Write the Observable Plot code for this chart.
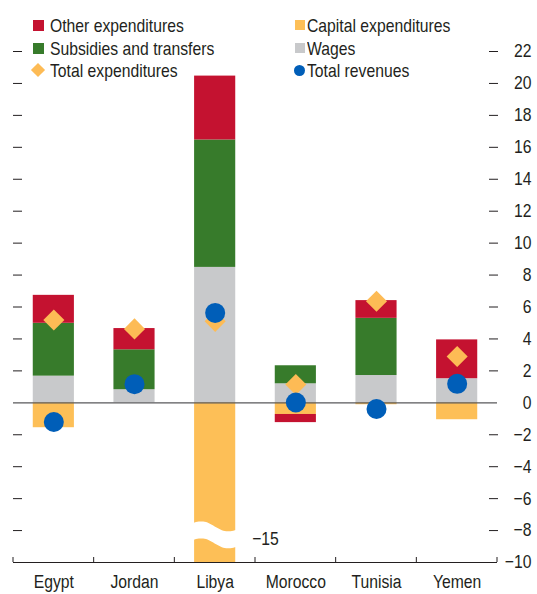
<!DOCTYPE html>
<html><head><meta charset="utf-8">
<script src="https://cdn.jsdelivr.net/npm/d3@7"></script>
<script src="https://cdn.jsdelivr.net/npm/@observablehq/plot@0.6"></script>
<style>
body{margin:0;background:#fff;}
#wrap{position:relative;width:537px;height:594px;font-family:"Liberation Sans",Arial,sans-serif;color:#231f20;}
#wrap svg{position:absolute;left:0;top:0;}
.leg{position:absolute;font-size:18.5px;line-height:22px;height:22px;white-space:nowrap;transform:scaleX(0.85);transform-origin:0 50%;}
.sw{position:absolute;}
</style>
</head><body>
<div id="wrap"></div>
<script>
const countries = ["Egypt","Jordan","Libya","Morocco","Tunisia","Yemen"];
const seriesNames = ["Wages","Subsidies and transfers","Capital expenditures","Other expenditures"];
const wages     = [1.67, 0.82, 8.48, 1.19, 1.71, 1.51];
const subsidies = [3.31, 2.50, 7.98, 1.13, 3.58, 0];
const capital   = [-1.56, 0, -15, -0.73, -0.12, -1.06];
const other     = [1.75, 1.33, 4.0, -0.51, 1.11, 2.43];
const totalExp  = [5.19, 4.63, 5.1, 1.15, 6.36, 2.9];
const totalRev  = [-1.2, 1.17, 5.63, 0.02, -0.39, 1.19];
const yTicks = [-10,-8,-6,-4,-2,0,2,4,6,8,10,12,14,16,18,20,22];
const colors = {"Other expenditures":"#c41230","Capital expenditures":"#fdbf57","Subsidies and transfers":"#377b2b","Wages":"#c8c9cb"};
const expColor = "#fdbb55", revColor = "#005eb8";

const seriesValues = [wages, subsidies, capital, other];
const bars = [];
countries.forEach((c, i) => seriesNames.forEach((s, j) => bars.push({country: c, series: s, value: seriesValues[j][i]})));
const totals = countries.map((c, i) => ({country: c, exp: totalExp[i], rev: totalRev[i]}));
const breakLabel = [{country: "Libya", label: d3.format("")(capital[2])}];

const font = '"Liberation Sans",Arial,sans-serif';
const chart = Plot.plot({
  width: 537, height: 594,
  marginLeft: 13, marginRight: 40, marginTop: 51, marginBottom: 32,
  style: {fontFamily: font, fontSize: "18.5px", color: "#231f20", background: "transparent"},
  x: {domain: countries, paddingInner: 0.49, paddingOuter: 0.245, round: false, label: null},
  y: {domain: [-10, 22], clamp: true, label: null},
  color: {domain: Object.keys(colors), range: Object.values(colors)},
  marks: [
    Plot.barY(bars, {x: "country", y: "value", fill: d => colors[d.series], order: null}),
    Plot.ruleY([0], {stroke: "#58595b", strokeWidth: 1.2}),
    Plot.ruleY([-10], {stroke: "#231f20", strokeWidth: 1}),
    Plot.axisY({anchor: "left", ticks: yTicks.filter(v => v > -10 && v !== 0), tickSize: 9, dx: 9, text: null, stroke: "#231f20", label: null}),
    Plot.axisY({anchor: "right", ticks: yTicks.filter(v => v > -10 && v !== 0), tickSize: 9, dx: -9, text: null, stroke: "#231f20", label: null}),
    Plot.axisY({anchor: "right", ticks: yTicks, tickSize: 0, tickPadding: 0, dx: 34, textAnchor: "end", tickFormat: d => d3.format("")(d), label: null}),
    Plot.axisX({anchor: "bottom", tickSize: 0, tickPadding: 12, label: null}),
    Plot.dot(totals, {x: "country", y: "exp", symbol: "diamond2", r: 9.5, fill: expColor, stroke: null}),
    Plot.dot(totals, {x: "country", y: "rev", symbol: "circle", r: 10, fill: revColor, stroke: null}),
    Plot.text(breakLabel, {x: "country", y: -8.55, text: "label", dx: 37, textAnchor: "start", fontSize: 18.5})
  ]
});
document.getElementById("wrap").appendChild(chart);

// condensed look: squeeze every text horizontally around its own anchor
d3.select(chart).selectAll("text").each(function() {
  const tr = this.getAttribute("transform") || "";
  this.setAttribute("transform", `${tr} scale(0.85,1)`);
});

// decorations derived from Plot's scales: category boundary ticks and axis break on Libya
const xs = chart.scale("x"), ys = chart.scale("y");
const bw = xs.bandwidth, step = xs.step;
const svg = d3.select(chart);
const yb = ys.apply(-10);
const bounds = countries.map(c => xs.apply(c) + bw / 2 - step / 2);
bounds.push(xs.apply(countries[countries.length - 1]) + bw / 2 + step / 2);
bounds.forEach(bx => svg.append("line").attr("x1", bx).attr("x2", bx).attr("y1", yb).attr("y2", yb - 5).attr("stroke", "#231f20").attr("stroke-width", 1));
const breakTop = -7.55;
const xL = xs.apply("Libya") - 1, xR = xs.apply("Libya") + bw + 1;
const yT = ys.apply(breakTop);
const N = 30, topPts = [], botPts = [];
for (let k = 0; k <= N; k++) {
  const t = k / N;
  const yy = yT + 7 * t - 3 * Math.sin(2 * Math.PI * t);
  topPts.push([xL + t * (xR - xL), yy]);
  botPts.push([xL + t * (xR - xL), yy + 17]);
}
const pts = topPts.concat(botPts.reverse());
svg.append("path").attr("d", "M" + pts.map(p => p.join(",")).join("L") + "Z").attr("fill", "#fff");

// legend
const wrap = document.getElementById("wrap");
const legend = [
  {label: "Other expenditures", kind: "sq", color: colors["Other expenditures"], x: 33, tx: 50, y: 25, s: 11},
  {label: "Subsidies and transfers", kind: "sq", color: colors["Subsidies and transfers"], x: 33, tx: 50, y: 48, s: 11},
  {label: "Total expenditures", kind: "dia", color: expColor, x: 32, tx: 50, y: 70, s: 10},
  {label: "Capital expenditures", kind: "sq", color: colors["Capital expenditures"], x: 295, tx: 307, y: 25, s: 10},
  {label: "Wages", kind: "sq", color: colors["Wages"], x: 295, tx: 307, y: 48, s: 10},
  {label: "Total revenues", kind: "dot", color: revColor, x: 294, tx: 307, y: 70, s: 11}
];
legend.forEach(d => {
  const sw = document.createElement("div");
  sw.className = "sw";
  sw.style.background = d.color;
  if (d.kind === "dia") {
    sw.style.width = sw.style.height = d.s + "px";
    sw.style.left = (d.x + 1) + "px"; sw.style.top = (d.y - d.s / 2) + "px";
    sw.style.transform = "rotate(45deg)";
  } else {
    sw.style.width = sw.style.height = d.s + "px";
    sw.style.left = d.x + "px"; sw.style.top = (d.y - d.s / 2) + "px";
    if (d.kind === "dot") sw.style.borderRadius = "50%";
  }
  wrap.appendChild(sw);
  const t = document.createElement("div");
  t.className = "leg";
  t.textContent = d.label;
  t.style.left = d.tx + "px"; t.style.top = (d.y - 10.5) + "px";
  wrap.appendChild(t);
});
</script>
</body></html>
